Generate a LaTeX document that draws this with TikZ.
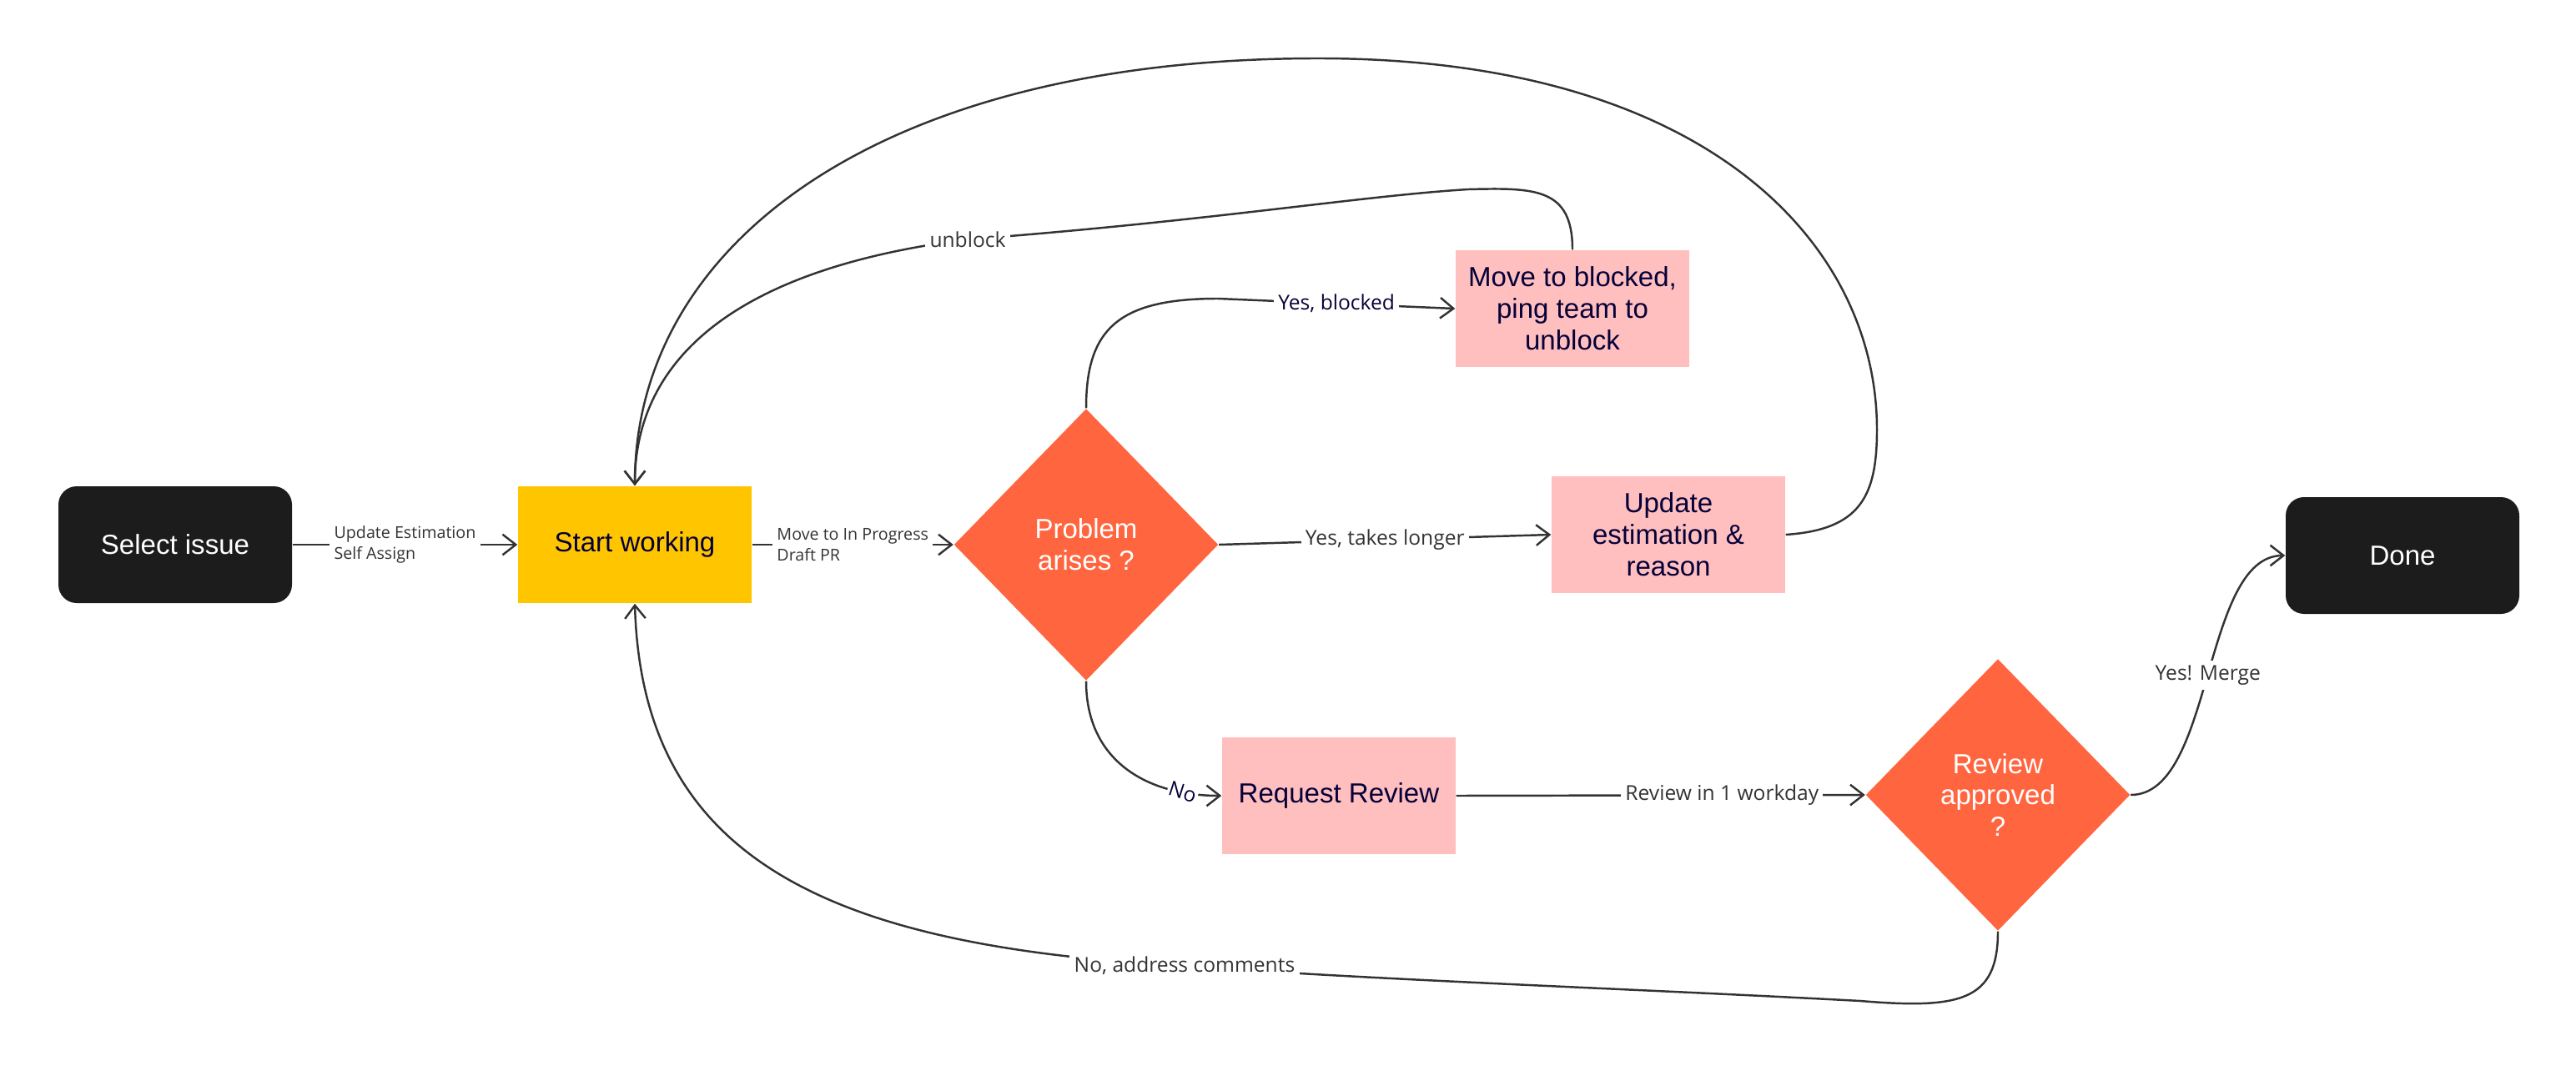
\documentclass[tikz,border=0pt]{standalone}
\usepackage{fontspec}
\setmainfont{Liberation Sans}
\newfontfamily\etiqfont{Open Sans}
\usepackage{tikz}
\usetikzlibrary{arrows.meta, positioning, shapes.geometric}
\definecolor{noir}{HTML}{1C1C1C}
\definecolor{jaune}{HTML}{FFC600}
\definecolor{orangevif}{HTML}{FF6640}
\definecolor{rose}{HTML}{FFBFBF}
\definecolor{marine}{HTML}{050038}
\definecolor{trait}{HTML}{333333}

\begin{document}
\begin{tikzpicture}[
  fleche/.style={draw=trait, line width=0.7pt, -{Straight Barb[length=4.5pt,width=7pt]}},
  boite/.style={minimum width=2.8cm, minimum height=1.4cm, align=center, inner sep=2pt, font=\fontsize{9.4}{10.8}\selectfont},
  terminal/.style={boite, fill=noir, text=white, rounded corners=0.22cm},
  etape/.style={boite, fill=rose, text=marine},
  decision/.style={diamond, fill=orangevif, text=white, minimum width=3.17cm, minimum height=3.26cm, inner sep=0pt, align=center, font=\fontsize{9.4}{10.8}\selectfont},
  etiq/.style={fill=white, text=trait, inner sep=1.5pt, font=\etiqfont\fontsize{7}{8.4}\selectfont},
  petit/.style={etiq, align=left, font=\etiqfont\fontsize{5.6}{7.2}\selectfont}
]
  \useasboundingbox (0,0) rectangle (30.88,12.95);
  % Etapes du flux
  \node[terminal] (select) at (2.10,6.42) {Select issue};
  \node[boite, fill=jaune, text=marine] (start) at (7.61,6.42) {Start working};
  \node[decision] (problem) at (13.02,6.42) {Problem\\arises ?};
  \node[etape] (blocked) at (18.85,9.25) {Move to blocked,\\ping team to\\unblock};
  \node[etape] (estim) at (20.00,6.54) {Update\\estimation \&\\reason};
  \node[etape] (request) at (16.05,3.41) {Request Review};
  \node[decision] (approved) at (23.95,3.42) {Review\\approved\\?};
  \node[terminal] (done) at (28.80,6.29) {Done};

  % Liaisons
  \draw[fleche] (select.east) -- node[petit]{Update Estimation\\Self Assign} (start.west);
  \draw[fleche] (start.east) -- node[petit]{Move to In Progress\\Draft PR} (problem.west);
  \draw[fleche] (problem.north) .. controls (13.02,9.0) and (13.4,9.37) .. (14.6,9.37)
        -- node[etiq, text=marine]{Yes, blocked} (blocked.west);
  \draw[fleche] (problem.east) -- node[etiq]{Yes, takes longer} (estim.west);
  \draw[fleche] (problem.south) .. controls +(0,-0.95) and +(-0.9,0)
        .. node[etiq, pos=0.82, rotate=-18, text=marine, inner sep=0.5pt]{No} (request.west);
  \draw[fleche] (request.east) -- node[etiq, pos=0.65]{Review in 1 workday} (approved.west);
  \draw[fleche] (approved.east) .. controls +(1.0,0) and +(-1.0,0) .. node[etiq]{Yes! Merge} (done.west);
  \draw[fleche] (approved.south) .. controls (23.95,0.95) and (23.5,0.85) .. (22.3,0.95)
        .. controls (19.5,1.1) and (16.5,1.2) .. (14.2,1.37) node[etiq]{No, address comments}
        .. controls (10.0,1.6) and (7.7,2.6) .. (start.south);
  \draw[fleche] (blocked.north) .. controls (18.85,10.7) and (18.4,10.7) .. (17.6,10.68)
        .. controls (16.3,10.6) and (14.5,10.3) .. (11.6,10.08) node[etiq]{unblock}
        .. controls (8.6,9.7) and (7.61,8.5) .. (start.north);
  \draw[fleche] (estim.east) .. controls (22.3,6.6) and (22.5,7.0) .. (22.5,7.8)
        .. controls (22.5,10.0) and (20.5,12.25) .. (15.8,12.25)
        .. controls (10.5,12.25) and (7.61,10) .. (start.north);
\end{tikzpicture}
\end{document}
